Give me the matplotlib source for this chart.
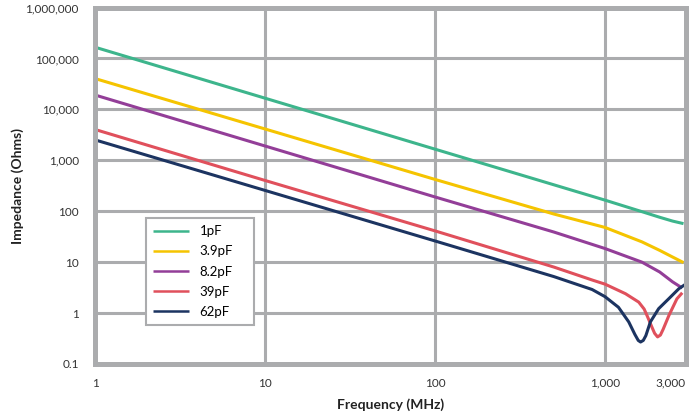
import numpy as np
import matplotlib
matplotlib.use('Agg')
import matplotlib.pyplot as plt
import matplotlib.ticker as ticker

plt.rcParams['font.family'] = ['Lato', 'DejaVu Sans']

# values (frequency in MHz, impedance in ohms)
freq_common = [1, 10, 100, 500, 1000, 1650, 2100, 2500, 2900]
z_1pf = [165000, 16500, 1650, 330, 165, 98, 76, 64, 57]
z_3p9pf = [40000, 4100, 420, 88, 48, 25, 17, 12.6, 9.8]
freq_8p2 = [1, 10, 100, 500, 1000, 1650, 2100, 2500, 2850]
z_8p2pf = [19000, 1900, 190, 39, 18.5, 10, 6.4, 4.1, 3.1]

freq_39 = [1, 10, 100, 500, 850, 1000, 1320, 1580, 1700, 1780, 1880, 1960, 2040,
           2120, 2200, 2380, 2650, 2850]
z_39pf = [4000, 400, 41, 8.0, 4.4, 3.7, 2.4, 1.64, 1.2, 0.85, 0.55, 0.40, 0.34,
          0.37, 0.48, 0.9, 1.9, 2.5]

freq_62 = [1, 10, 100, 500, 840, 1000, 1200, 1380, 1500, 1570, 1620, 1680, 1740,
           1850, 2070, 2370, 2720, 2950]
z_62pf = [2500, 255, 26, 5.2, 2.9, 2.1, 1.3, 0.67, 0.38, 0.29, 0.27, 0.29, 0.36,
          0.67, 1.22, 1.9, 3.0, 3.6]

series = [
    ('1pF', freq_common, z_1pf, '#3db58c'),
    ('3.9pF', freq_common, z_3p9pf, '#f5c400'),
    ('8.2pF', freq_8p2, z_8p2pf, '#933e98'),
    ('39pF', freq_39, z_39pf, '#e0505c'),
    ('62pF', freq_62, z_62pf, '#1c3461'),
]

x_ticks = [1, 10, 100, 1000, 3000]
x_labels = ['1', '10', '100', '1,000', '3,000']
y_ticks = [0.1, 1, 10, 100, 1000, 10000, 100000, 1000000]
y_labels = ['0.1', '1', '10', '100', '1,000', '10,000', '100,000', '1,000,000']

grid_col = '#abacae'

fig = plt.figure(figsize=(6.94, 4.19), dpi=100)
ax = fig.add_axes([0.1376, 0.1313, 0.8509, 0.8508])

for label, f, z, c in series:
    ax.plot(f, z, color=c, lw=2.2, label=label, solid_capstyle='butt')

ax.set_xscale('log')
ax.set_yscale('log')
ax.set_xlim(1, 3000)
ax.set_ylim(0.1, 1000000)

ax.xaxis.set_major_locator(ticker.FixedLocator(x_ticks))
ax.xaxis.set_major_formatter(ticker.FixedFormatter(x_labels))
ax.xaxis.set_minor_locator(ticker.NullLocator())
ax.yaxis.set_major_locator(ticker.FixedLocator(y_ticks))
ax.yaxis.set_major_formatter(ticker.FixedFormatter(y_labels))
ax.yaxis.set_minor_locator(ticker.NullLocator())

ax.tick_params(length=0, labelsize=8.5, colors='#333333', pad=10)
ax.tick_params(axis='y', pad=12)
# last label sits flush with the right frame
ax.get_xticklabels()[-1].set_horizontalalignment('right')

for xv in [10, 100, 1000]:
    ax.axvline(xv, color=grid_col, lw=2.2, zorder=0)
for yv in y_ticks[1:-1]:
    ax.axhline(yv, color=grid_col, lw=2.2, zorder=0)

for s in ax.spines.values():
    s.set_color(grid_col)
    s.set_linewidth(3.6)

ax.set_xlabel('Frequency (MHz)', fontsize=10, fontweight='bold', color='#222222', labelpad=7)
ax.set_ylabel('Impedance (Ohms)', fontsize=10, fontweight='bold', color='#222222', labelpad=1)

leg = ax.legend(loc='upper left', bbox_to_anchor=(0.0855, 0.0954, 0.183, 0.3141),
                mode='expand', borderaxespad=0,
                fontsize=9.5, handlelength=2.7, handletextpad=0.8, labelspacing=0.62,
                fancybox=False, framealpha=1, edgecolor=grid_col, borderpad=0.55)
leg.get_frame().set_linewidth(1.5)
for line in leg.get_lines():
    line.set_linewidth(1.8)

fig.savefig('out.png', dpi=100)
